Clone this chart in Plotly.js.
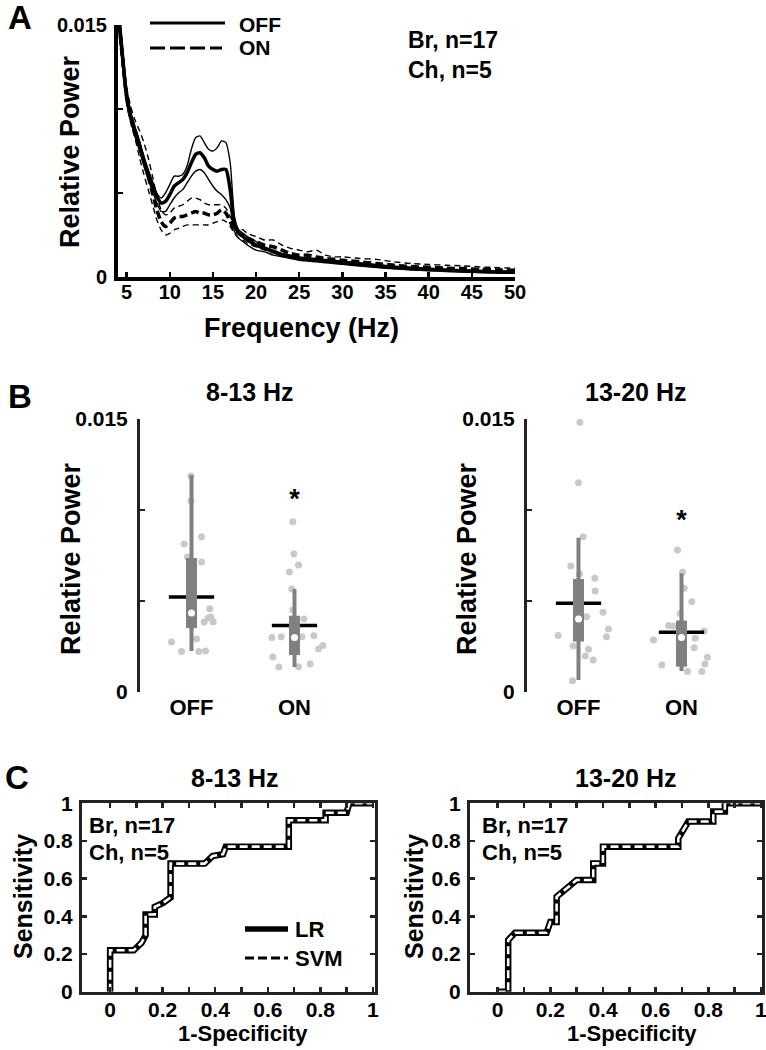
<!DOCTYPE html>
<html><head><meta charset="utf-8">
<script src="https://cdn.plot.ly/plotly-3.0.1.min.js"></script>
<style>html,body{margin:0;padding:0;background:#fff}#chart{width:766px;height:1050px}</style>
</head><body><div id="chart"></div>
<script>
// ---------- Panel A: spectra ----------
const freq = [4,4.5,5,5.5,6,6.5,7,7.5,8,8.5,9,9.5,10,10.5,11,11.5,12,12.5,13,13.5,14,14.5,15,15.5,16,16.5,17,17.5,18,18.5,19,20,21,22,23,24,25,26,27,28,29,30,32,34,36,38,40,42,44,46,48,50];
const offMean = [0.0160,0.0133,0.0108,0.0095,0.0086,0.0078,0.0069,0.0061,0.0054,0.0048,0.0044,0.0045,0.0049,0.0054,0.0056,0.0058,0.0062,0.0068,0.0073,0.0074,0.0071,0.0066,0.0064,0.0063,0.0064,0.0064,0.0052,0.0031,0.0026,0.0024,0.0022,0.0019,0.0017,0.0015,0.0013,0.0012,0.0011,0.00105,0.0010,0.00095,0.0009,0.00085,0.00075,0.00065,0.00057,0.0005,0.00045,0.0004,0.00036,0.00033,0.0003,0.00028];
const offUpper = [0.0166,0.0138,0.0112,0.0098,0.0089,0.0081,0.0072,0.0064,0.0057,0.0050,0.0047,0.0050,0.0055,0.0060,0.0060,0.0061,0.0066,0.0076,0.0083,0.0084,0.0080,0.0076,0.0075,0.0077,0.0081,0.0080,0.0068,0.0036,0.0028,0.0026,0.0024,0.0021,0.0018,0.0016,0.0014,0.0013,0.0012,0.00115,0.0011,0.00105,0.001,0.00095,0.00085,0.00074,0.00065,0.00058,0.00052,0.00047,0.00043,0.00039,0.00036,0.00034];
const offLower = [0.0154,0.0128,0.0104,0.0092,0.0083,0.0075,0.0066,0.0058,0.0051,0.0044,0.0039,0.0039,0.0043,0.0047,0.0050,0.0052,0.0056,0.0060,0.0063,0.0064,0.0062,0.0058,0.0054,0.0051,0.0049,0.0046,0.0041,0.0027,0.0023,0.0021,0.0019,0.0016,0.0015,0.0013,0.0012,0.0011,0.001,0.00095,0.0009,0.00085,0.0008,0.00075,0.00065,0.00056,0.00049,0.00042,0.00037,0.00033,0.00029,0.00026,0.00024,0.00022];
const onMean = [0.0158,0.0131,0.0107,0.0095,0.0087,0.0078,0.0069,0.0060,0.0050,0.0040,0.0033,0.0030,0.0032,0.0035,0.0036,0.0036,0.0037,0.0038,0.0039,0.0038,0.0038,0.0037,0.0037,0.0038,0.0040,0.0038,0.0033,0.0028,0.0026,0.0025,0.0023,0.0021,0.0019,0.0018,0.0016,0.0014,0.0013,0.0013,0.0012,0.0011,0.00105,0.001,0.0009,0.0008,0.0007,0.00062,0.00058,0.00052,0.0005,0.00046,0.00042,0.0004];
const onUpper = [0.0166,0.0138,0.0113,0.0101,0.0093,0.0087,0.0080,0.0071,0.0060,0.0048,0.0040,0.0037,0.0038,0.0041,0.0042,0.0043,0.0045,0.0047,0.0047,0.0046,0.0044,0.0043,0.0043,0.0043,0.0043,0.0041,0.0036,0.0031,0.0029,0.0028,0.0026,0.0024,0.0022,0.0022,0.0019,0.0017,0.0016,0.0015,0.0016,0.0013,0.0012,0.0012,0.0011,0.00105,0.0009,0.0008,0.00075,0.0007,0.00066,0.0006,0.00056,0.00052];
const onLower = [0.0152,0.0126,0.0103,0.0091,0.0082,0.0071,0.0061,0.0052,0.0043,0.0034,0.0028,0.0025,0.0026,0.0028,0.0029,0.0030,0.0031,0.0031,0.0031,0.0031,0.0031,0.0031,0.0032,0.0033,0.0034,0.0033,0.0030,0.0026,0.0023,0.0022,0.0020,0.0018,0.0016,0.0015,0.0013,0.0012,0.0011,0.001,0.0009,0.00088,0.00085,0.0008,0.0007,0.0006,0.00052,0.00046,0.00042,0.00036,0.00034,0.0003,0.00028,0.00026];
const freqTicks = [5,10,15,20,25,30,35,40,45,50];
const powerTicks = [0,0.005,0.01,0.015];
const powerTickText = ['0','','','0.015'];

// ---------- Panel B: band power ----------
const conditions = ['OFF','ON'];
// 8-13 Hz
const alphaStats = {
  OFF: {lo:0.00225, q1:0.00352, med:0.00434, q3:0.00736, hi:0.01192, mean:0.00522},
  ON:  {lo:0.00137, q1:0.00203, med:0.00299, q3:0.00419, hi:0.00566, mean:0.00366}
};
const alphaOffVals = [0.01187,0.01051,0.00813,0.00853,0.00742,0.00714,0.00458,0.00412,0.00406,0.00385,0.00386,0.00275,0.00291,0.00222,0.00222,0.00225,0.0060,0.0050,0.0045,0.0036,0.0055,0.0066];
const alphaOffJit  = [-0.006,-0.006,-0.071,0.097,-0.039,0.097,0.178,0.188,0.162,0.123,0.210,-0.194,0.049,-0.097,0.071,0.136,0,-0.01,0.01,0,-0.016,0.016];
const alphaOnVals  = [0.00936,0.00758,0.00698,0.00659,0.00566,0.00401,0.00299,0.00304,0.00304,0.00309,0.00255,0.00236,0.00192,0.00137,0.00139,0.00154,0.0035,0.0025,0.0040,0.0022,0.0030,0.0045];
const alphaOnJit   = [-0.016,-0.006,0.039,-0.049,-0.026,0.091,-0.220,-0.129,0.071,0.188,0.275,0.233,-0.210,-0.152,0.039,0.152,0,0.01,-0.01,0,0.016,-0.016];
// 13-20 Hz
const betaStats = {
  OFF: {lo:0.00066, q1:0.00277, med:0.00401, q3:0.00621, hi:0.00848, mean:0.00487},
  ON:  {lo:0.00115, q1:0.00139, med:0.00299, q3:0.00392, hi:0.00652, mean:0.00328}
};
const betaOffVals = [0.01482,0.0115,0.00853,0.00692,0.00625,0.00555,0.00438,0.00414,0.00346,0.00304,0.00311,0.00253,0.00235,0.00198,0.00176,0.00062,0.0058,0.0050,0.0045,0.0036,0.0030,0.0065];
const betaOffJit  = [0.013,0,0.045,-0.074,0.159,0.162,0.239,0.078,0.291,0.272,-0.197,-0.052,0.097,0.065,0.142,-0.058,0.006,-0.01,0.013,0,-0.01,0.01];
const betaOnVals  = [0.0078,0.00658,0.0057,0.00496,0.00366,0.00363,0.00286,0.00295,0.00335,0.00243,0.00191,0.00154,0.00148,0.00112,0.00112,0.0038,0.0032,0.0025,0.0020,0.0016,0.0043,0.0028];
const betaOnJit   = [-0.039,0.01,0.026,0.1,-0.126,-0.081,-0.272,0.133,0.220,0.123,0.252,0.227,-0.191,0.058,0.197,0,-0.006,0.01,-0.006,0,-0.013,0.013];
const starY = [0.0105, 0.0093]; // significance marker heights (8-13, 13-20)

// ---------- Panel C: ROC ----------
const lrFpr813  = [0,0,0.09,0.12,0.135,0.135,0.17,0.17,0.2,0.23,0.23,0.36,0.39,0.43,0.44,0.68,0.68,0.82,0.82,0.9,0.91,1];
const lrTpr813  = [0,0.22,0.22,0.26,0.30,0.41,0.41,0.45,0.47,0.50,0.68,0.68,0.72,0.73,0.77,0.77,0.91,0.91,0.95,0.95,1,1];
const svmFpr813 = [0,0,0.09,0.12,0.135,0.135,0.17,0.17,0.2,0.23,0.23,0.36,0.39,0.43,0.44,0.68,0.68,0.82,0.82,0.9,0.91,1];
const svmTpr813 = [0,0.22,0.22,0.26,0.30,0.41,0.41,0.45,0.47,0.50,0.68,0.68,0.72,0.73,0.77,0.77,0.91,0.91,0.95,0.95,1,1];
const lrFpr1320  = [0,0.04,0.04,0.066,0.186,0.2,0.224,0.224,0.3,0.363,0.363,0.4,0.4,0.686,0.686,0.724,0.819,0.819,0.863,0.863,1];
const lrTpr1320  = [0,0,0.274,0.313,0.313,0.37,0.37,0.504,0.593,0.593,0.681,0.681,0.77,0.77,0.814,0.903,0.903,0.956,0.956,1,1];
const svmFpr1320 = [0,0.04,0.04,0.066,0.186,0.2,0.224,0.224,0.3,0.363,0.363,0.4,0.4,0.686,0.686,0.724,0.819,0.819,0.863,0.863,1];
const svmTpr1320 = [0,0,0.274,0.313,0.313,0.37,0.37,0.504,0.593,0.593,0.681,0.681,0.77,0.77,0.814,0.903,0.903,0.956,0.956,1,1];
const rocXTicks = [0,0.1,0.2,0.3,0.4,0.5,0.6,0.7,0.8,0.9,1];
const rocXText  = ['0','','0.2','','0.4','','0.6','','0.8','','1'];
const rocYTicks = [0,0.2,0.4,0.6,0.8,1];
const rocYText  = ['0','0.2','0.4','0.6','0.8','1'];

// ---------- styling helpers ----------
const FONT = 'Liberation Sans, Arial, Helvetica, sans-serif';
const fnt = (s, c) => ({family: FONT, size: s, color: c || '#000', weight: 'bold'});
const PX = x => x / 766;
const PY = y => 1 - y / 1050;
const GRAY = '#808080', DOT = '#c9c9c9';

const traces = [];
// Panel A
function specTrace(y, dash, w) {
  return {type:'scatter', mode:'lines', x:freq, y:y, xaxis:'x', yaxis:'y', showlegend:false, hoverinfo:'skip',
    line:{color:'#000', width:w, dash:dash, shape:'spline', smoothing:0.6}};
}
traces.push(specTrace(onUpper, '6px,4px', 1.4));
traces.push(specTrace(onLower, '6px,4px', 1.4));
traces.push(specTrace(offUpper, 'solid', 1.4));
traces.push(specTrace(offLower, 'solid', 1.4));
traces.push(specTrace(onMean, '8px,4px', 3.5));
traces.push(specTrace(offMean, 'solid', 3.5));

// Panel B
function addBoxPanel(xa, ya, stats, groups) {
  groups.forEach((g, i) => {
    const c = i + 1;
    traces.push({type:'scatter', mode:'markers', xaxis:xa, yaxis:ya, showlegend:false, hoverinfo:'skip',
      x:g.jit.map(j => c + j), y:g.vals, marker:{size:7, color:DOT}});
  });
  groups.forEach((g, i) => {
    const c = i + 1, s = stats[conditions[i]];
    traces.push({type:'scatter', mode:'lines', xaxis:xa, yaxis:ya, showlegend:false, hoverinfo:'skip',
      x:[c - 0.22, c + 0.22], y:[s.mean, s.mean], line:{color:'#000', width:3.5}});
    traces.push({type:'scatter', mode:'lines', xaxis:xa, yaxis:ya, showlegend:false, hoverinfo:'skip',
      x:[c, c], y:[s.lo, s.hi], line:{color:GRAY, width:4}});
    traces.push({type:'scatter', mode:'lines', xaxis:xa, yaxis:ya, showlegend:false, hoverinfo:'skip',
      x:[c, c], y:[s.q1, s.q3], line:{color:GRAY, width:11}});
    traces.push({type:'scatter', mode:'markers', xaxis:xa, yaxis:ya, showlegend:false, hoverinfo:'skip',
      x:[c], y:[s.med], marker:{size:7, color:'#fff'}});
  });
}
addBoxPanel('x2','y2', alphaStats, [{vals:alphaOffVals, jit:alphaOffJit},{vals:alphaOnVals, jit:alphaOnJit}]);
addBoxPanel('x3','y3', betaStats, [{vals:betaOffVals, jit:betaOffJit},{vals:betaOnVals, jit:betaOnJit}]);
traces.push({type:'scatter', mode:'text', xaxis:'x2', yaxis:'y2', x:[2], y:[starY[0]], text:['*'], textfont:fnt(27), showlegend:false, hoverinfo:'skip', cliponaxis:false});
traces.push({type:'scatter', mode:'text', xaxis:'x3', yaxis:'y3', x:[2], y:[starY[1]], text:['*'], textfont:fnt(27), showlegend:false, hoverinfo:'skip', cliponaxis:false});

// Panel C
function addRoc(xa, ya, lx, ly, sx, sy) {
  traces.push({type:'scatter', mode:'lines', xaxis:xa, yaxis:ya, name:'LR', showlegend:false, hoverinfo:'skip',
    x:lx, y:ly, line:{color:'#000', width:6.5}});
  traces.push({type:'scatter', mode:'lines', xaxis:xa, yaxis:ya, name:'SVM', showlegend:false, hoverinfo:'skip',
    x:sx, y:sy, line:{color:'#fff', width:2.6, dash:'8px,4px'}});
}
addRoc('x4','y4', lrFpr813, lrTpr813, svmFpr813, svmTpr813);
addRoc('x5','y5', lrFpr1320, lrTpr1320, svmFpr1320, svmTpr1320);

// ---------- axes ----------
const base = {showgrid:false, zeroline:false, fixedrange:true, ticklabeloverflow:'allow'};
const rocAxis = {showline:true, mirror:'ticks', linewidth:3, linecolor:'#222', ticks:'inside', ticklen:5, tickwidth:2.5, tickcolor:'#222', tickfont:fnt(21)};
const layout = {
  width:766, height:1050, margin:{l:0, r:0, t:0, b:0},
  paper_bgcolor:'#fff', plot_bgcolor:'#fff', showlegend:false,
  font: fnt(20),
  xaxis: Object.assign({}, base, {domain:[PX(118), PX(515)], range:[4,50], anchor:'y',
    showline:true, linewidth:4, linecolor:'#000', ticks:'inside', ticklen:5, tickwidth:2.5, tickcolor:'#000',
    tickvals:freqTicks, tickfont:fnt(20), ticklabelstandoff:-6}),
  yaxis: Object.assign({}, base, {domain:[PY(277), PY(25)], range:[0,0.015], anchor:'x',
    showline:true, linewidth:4, linecolor:'#000', ticks:'inside', ticklen:5, tickwidth:2.5, tickcolor:'#000',
    tickvals:powerTicks, ticktext:powerTickText, tickfont:fnt(20), ticklabelstandoff:3}),
  xaxis2: Object.assign({}, base, {domain:[PX(140), PX(346)], range:[0.5,2.5], anchor:'y2',
    showline:false, ticks:'', tickvals:[1,2], ticktext:conditions, tickfont:fnt(22), ticklabelstandoff:0}),
  yaxis2: Object.assign({}, base, {domain:[PY(692), PY(419)], range:[0,0.015], anchor:'x2',
    showline:true, linewidth:3, linecolor:'#222', ticks:'inside', ticklen:5, tickwidth:2.5, tickcolor:'#222',
    tickvals:powerTicks, ticktext:powerTickText, tickfont:fnt(21), ticklabelstandoff:5}),
  xaxis3: Object.assign({}, base, {domain:[PX(527), PX(733)], range:[0.5,2.5], anchor:'y3',
    showline:false, ticks:'', tickvals:[1,2], ticktext:conditions, tickfont:fnt(22), ticklabelstandoff:0}),
  yaxis3: Object.assign({}, base, {domain:[PY(692), PY(419)], range:[0,0.015], anchor:'x3',
    showline:true, linewidth:3, linecolor:'#222', ticks:'inside', ticklen:5, tickwidth:2.5, tickcolor:'#222',
    tickvals:powerTicks, ticktext:powerTickText, tickfont:fnt(21), ticklabelstandoff:5}),
  xaxis4: Object.assign({}, base, rocAxis, {domain:[PX(82), PX(375)], range:[-0.107,1.008], anchor:'y4',
    tickvals:rocXTicks, ticktext:rocXText, ticklabelstandoff:-3}),
  yaxis4: Object.assign({}, base, rocAxis, {domain:[PY(991.7), PY(803.3)], range:[0,1], anchor:'x4',
    tickvals:rocYTicks, ticktext:rocYText, ticklabelstandoff:2}),
  xaxis5: Object.assign({}, base, rocAxis, {domain:[PX(470), PX(762)], range:[-0.105,1.004], anchor:'y5',
    tickvals:rocXTicks, ticktext:rocXText, ticklabelstandoff:-3}),
  yaxis5: Object.assign({}, base, rocAxis, {domain:[PY(991.7), PY(803.3)], range:[0,1], anchor:'x5',
    tickvals:rocYTicks, ticktext:rocYText, ticklabelstandoff:2}),
  shapes: [
    {type:'line', xref:'paper', yref:'paper', x0:PX(150), x1:PX(225), y0:PY(23), y1:PY(23), line:{color:'#000', width:3}},
    {type:'line', xref:'paper', yref:'paper', x0:PX(150), x1:PX(222), y0:PY(48), y1:PY(48), line:{color:'#000', width:3, dash:'15px,5px'}},
    {type:'line', xref:'paper', yref:'paper', x0:PX(245), x1:PX(288), y0:PY(929), y1:PY(929), line:{color:'#000', width:5.5}},
    {type:'line', xref:'paper', yref:'paper', x0:PX(245), x1:PX(288), y0:PY(958), y1:PY(958), line:{color:'#000', width:3, dash:'9px,4px'}}
  ],
  annotations: []
};
function ann(text, x, y, size, opts) {
  layout.annotations.push(Object.assign({text:text, xref:'paper', yref:'paper', x:PX(x), y:PY(y),
    xanchor:'center', yanchor:'middle', showarrow:false, font:fnt(size)}, opts || {}));
}
// panel letters
ann('A', 6, 18, 33, {xanchor:'left'});
ann('B', 6, 397, 33, {xanchor:'left'});
ann('C', 3, 777, 33, {xanchor:'left'});
// panel A texts
ann('OFF', 237, 24, 21, {xanchor:'left'});
ann('ON', 237, 48, 21, {xanchor:'left'});
ann('Br, n=17', 406, 40, 23, {xanchor:'left'});
ann('Ch, n=5', 406, 70, 23, {xanchor:'left'});
ann('Relative Power', 70, 152, 27, {textangle:-90});
ann('Frequency (Hz)', 301, 328, 27);
// panel B texts
ann('8-13 Hz', 250, 392, 25);
ann('13-20 Hz', 635, 392, 25);
ann('Relative Power', 71, 559, 27, {textangle:-90});
ann('Relative Power', 467, 559, 27, {textangle:-90});
// panel C texts
ann('8-13 Hz', 235, 778, 25);
ann('13-20 Hz', 625, 778, 25);
ann('Sensitivity', 23, 897, 25, {textangle:-90});
ann('Sensitivity', 414, 897, 25, {textangle:-90});
ann('1-Specificity', 243, 1033, 22);
ann('1-Specificity', 632, 1033, 22);
ann('Br, n=17', 87, 825, 22, {xanchor:'left'});
ann('Ch, n=5', 87, 852, 22, {xanchor:'left'});
ann('Br, n=17', 480, 825, 22, {xanchor:'left'});
ann('Ch, n=5', 480, 852, 22, {xanchor:'left'});
ann('LR', 293, 929, 22, {xanchor:'left'});
ann('SVM', 293, 958, 22, {xanchor:'left'});

Plotly.newPlot('chart', traces, layout, {staticPlot:true, displayModeBar:false});
</script></body></html>
